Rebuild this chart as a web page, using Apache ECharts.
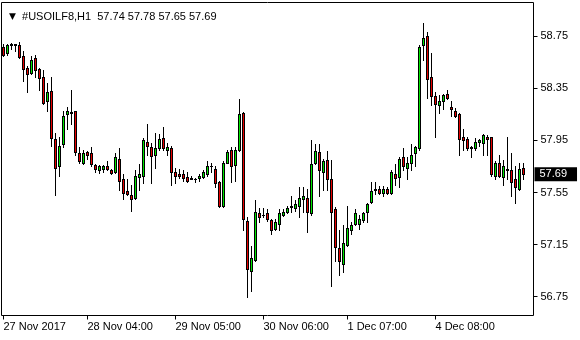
<!DOCTYPE html>
<html><head><meta charset="utf-8">
<script src="https://cdn.jsdelivr.net/npm/echarts@6/dist/echarts.min.js"></script>
<style>html,body{margin:0;padding:0;background:#fff}#c{width:580px;height:340px}</style>
</head><body><div id="c"></div>
<script>
const symbolName = '#USOILF8,H1';
const opens = [58.67,58.62,58.69,58.69,58.68,58.60,58.51,58.47,58.58,58.50,58.44,58.25,58.33,57.96,57.75,57.92,58.15,58.17,58.18,57.85,
57.78,57.86,57.85,57.76,57.72,57.73,57.75,57.72,57.71,57.81,57.65,57.56,57.53,57.51,57.67,57.68,57.94,57.90,57.84,57.89,
57.97,57.88,57.89,57.71,57.69,57.69,57.67,57.65,57.65,57.66,57.67,57.69,57.75,57.73,57.63,57.45,57.78,57.88,57.76,57.88,
58.16,57.33,56.95,57.03,57.39,57.38,57.39,57.34,57.27,57.31,57.38,57.40,57.44,57.43,57.45,57.50,57.51,57.39,57.78,57.86,
57.71,57.80,57.65,57.42,57.12,57.00,57.15,57.26,57.31,57.31,57.34,57.40,57.48,57.57,57.58,57.55,57.58,57.55,57.69,57.67,
57.82,57.74,57.78,57.85,57.89,58.68,58.75,58.44,58.29,58.22,58.25,58.31,58.21,58.18,58.15,57.98,57.96,57.90,57.89,57.94,
57.93,57.98,57.98,57.68,57.78,57.67,57.73,57.72,57.65,57.58,57.74];
const closes = [58.61,58.68,58.68,58.68,58.59,58.50,58.46,58.57,58.49,58.43,58.24,58.32,57.97,57.74,57.91,58.14,58.18,58.16,57.86,57.79,
57.85,57.84,57.77,57.73,57.75,57.75,57.73,57.70,57.82,57.64,57.55,57.54,57.50,57.68,57.69,57.95,57.91,57.83,57.89,57.96,
57.89,57.90,57.71,57.68,57.68,57.66,57.64,57.66,57.65,57.68,57.71,57.75,57.75,57.62,57.45,57.78,57.86,57.75,57.88,58.15,
57.35,56.96,57.05,57.40,57.36,57.38,57.35,57.26,57.32,57.39,57.40,57.43,57.45,57.46,57.51,57.52,57.40,57.77,57.87,57.72,
57.79,57.65,57.40,57.13,57.02,57.16,57.28,57.30,57.39,57.35,57.39,57.46,57.56,57.58,57.55,57.58,57.55,57.71,57.66,57.81,
57.75,57.78,57.84,57.90,58.67,58.74,58.42,58.29,58.23,58.25,58.30,58.28,58.19,58.14,57.96,57.95,57.89,57.89,57.94,57.95,
57.99,57.96,57.69,57.78,57.68,57.75,57.72,57.63,57.59,57.73,57.69];
const lows = [58.60,58.61,58.65,58.64,58.58,58.41,58.32,58.46,58.44,58.34,58.23,58.18,57.91,57.53,57.68,57.90,58.04,58.08,57.84,57.78,
57.77,57.81,57.75,57.71,57.70,57.71,57.72,57.69,57.70,57.57,57.50,57.53,57.41,57.50,57.57,57.62,57.84,57.62,57.74,57.88,
57.88,57.84,57.61,57.62,57.66,57.64,57.63,57.65,57.63,57.64,57.66,57.68,57.71,57.59,57.44,57.44,57.78,57.63,57.64,57.87,
57.26,56.75,56.79,57.02,57.32,57.36,57.33,57.23,57.26,57.26,57.37,57.39,57.40,57.41,57.36,57.40,57.25,57.38,57.77,57.52,
57.57,57.57,56.83,57.02,56.92,56.94,57.14,57.23,57.30,57.27,57.32,57.32,57.47,57.54,57.54,57.52,57.54,57.54,57.61,57.59,
57.72,57.65,57.72,57.75,57.88,58.57,58.28,58.22,57.98,58.16,58.19,58.27,58.14,58.13,57.84,57.88,57.88,57.82,57.88,57.91,
57.84,57.84,57.68,57.65,57.67,57.61,57.65,57.52,57.47,57.57,57.65];
const highs = [58.69,58.69,58.70,58.69,58.71,58.64,58.52,58.60,58.61,58.51,58.49,58.39,58.44,58.01,57.98,58.18,58.21,58.34,58.18,57.90,
57.88,57.87,57.90,57.77,57.76,57.76,57.79,57.73,57.85,57.89,57.69,57.65,57.61,57.72,57.77,57.97,58.08,57.93,58.01,58.00,
58.05,57.93,57.91,57.74,57.73,57.72,57.71,57.68,57.66,57.69,57.72,57.79,57.78,57.75,57.64,57.79,57.88,57.90,57.90,58.27,
58.17,57.36,57.14,57.49,57.43,57.43,57.42,57.35,57.35,57.42,57.42,57.45,57.52,57.49,57.59,57.59,57.58,57.95,57.92,57.92,
57.81,57.87,57.80,57.44,57.26,57.30,57.45,57.32,57.42,57.38,57.40,57.47,57.63,57.63,57.60,57.60,57.59,57.72,57.77,57.82,
57.89,57.82,57.92,57.91,58.68,58.85,58.78,58.62,58.32,58.30,58.31,58.34,58.25,58.20,58.16,58.04,57.98,57.91,57.97,57.96,
58.00,57.99,57.98,57.79,57.84,57.80,57.98,57.85,57.75,57.78,57.78];
const tickIdx = [0, 21, 43, 65, 86, 108];
const tickLabels = ['27 Nov 2017', '28 Nov 04:00', '29 Nov 05:00', '30 Nov 06:00', '1 Dec 07:00', '4 Dec 08:00'];
const priceTicks = [58.75, 58.35, 57.95, 57.55, 57.15, 56.75];
const nBands = 133;

const UP = '#00e600', DOWN = '#e60000';
const cats = [];
for (let i = 0; i < nBands; i++) cats.push(i);
const labelMap = {};
tickIdx.forEach((k, j) => { labelMap[k] = tickLabels[j]; });
const data = opens.map((o, i) => [i, o, closes[i], lows[i], highs[i]]);
const last = opens.length - 1;
const fmt = v => v.toFixed(2);
const FONT = 'Liberation Sans';

function renderCandle(params, api) {
  const i = api.value(0);
  const o = api.value(1), c = api.value(2), l = api.value(3), h = api.value(4);
  const pO = api.coord([i, o]), pC = api.coord([i, c]);
  const pL = api.coord([i, l]), pH = api.coord([i, h]);
  const left = Math.round(pO[0] - 1.5);
  const yT = Math.round(Math.min(pO[1], pC[1]));
  const yB = Math.round(Math.max(pO[1], pC[1]));
  const yH = Math.round(pH[1]), yL = Math.round(pL[1]);
  const fill = c > o ? UP : DOWN;
  const kids = [
    { type: 'rect', shape: { x: left + 1, y: yH, width: 1, height: yL - yH + 1 }, style: { fill: '#000' } },
    { type: 'rect', shape: { x: left, y: yT, width: 3, height: yB - yT + 1 }, style: { fill: '#000' } }
  ];
  if (yB - yT > 1) {
    kids.push({ type: 'rect', shape: { x: left + 1, y: yT + 1, width: 1, height: yB - yT - 1 }, style: { fill: fill } });
  }
  return { type: 'group', children: kids };
}

const chart = echarts.init(document.getElementById('c'), null, {renderer: 'canvas'});
chart.setOption({
  animation: false,
  backgroundColor: '#ffffff',
  title: {
    left: 4, top: 6,
    text: '{t|▼}  ' + symbolName + '  ' + [opens[last], highs[last], lows[last], closes[last]].map(fmt).join(' '),
    textStyle: {
      color: '#000', fontSize: 11, fontWeight: 'normal', fontFamily: FONT,
      rich: { t: { fontSize: 9, color: '#000', fontFamily: 'DejaVu Sans' } }
    }
  },
  grid: {
    left: 1.5, right: 46.5, top: 2.5, bottom: 24.5,
    show: true, borderColor: '#000', borderWidth: 1, backgroundColor: '#fff',
    containLabel: false
  },
  xAxis: {
    type: 'category', data: cats, boundaryGap: true,
    axisLine: { show: false },
    axisTick: {
      show: true, alignWithLabel: true, length: 4, inside: false,
      interval: (idx) => labelMap[idx] !== undefined,
      lineStyle: { color: '#000', width: 1 }
    },
    axisLabel: {
      show: true, interval: (idx) => labelMap[idx] !== undefined,
      formatter: (v) => labelMap[v] || '',
      align: 'left', margin: 6, color: '#000', fontSize: 11, fontFamily: FONT,
      hideOverlap: false
    },
    splitLine: { show: false }
  },
  yAxis: {
    type: 'value', position: 'right', scale: true,
    min: 56.605, max: 59.01,
    axisLine: { show: false },
    axisTick: { show: true, customValues: priceTicks, length: 4, inside: false, lineStyle: { color: '#000' } },
    axisLabel: {
      show: true, customValues: priceTicks, formatter: (v) => v.toFixed(2),
      margin: 7, color: '#000', fontSize: 11, fontFamily: FONT
    },
    splitLine: { show: false }
  },
  series: [{
    type: 'custom',
    data: data,
    encode: { x: 0, y: [1, 2, 3, 4] },
    renderItem: renderCandle,
    clip: false,
    markLine: {
      silent: true, symbol: ['none', 'none'], animation: false,
      lineStyle: { color: 'rgba(0,0,0,0)', width: 0, type: 'solid' },
      label: {
        show: true, position: 'end', distance: 1,
        formatter: () => fmt(closes[last]),
        backgroundColor: '#000', color: '#fff', fontSize: 11, fontFamily: FONT,
        padding: [2, 10, 1, 5]
      },
      emphasis: { disabled: true },
      data: [{ yAxis: closes[last] }]
    }
  }]
});
</script></body></html>
